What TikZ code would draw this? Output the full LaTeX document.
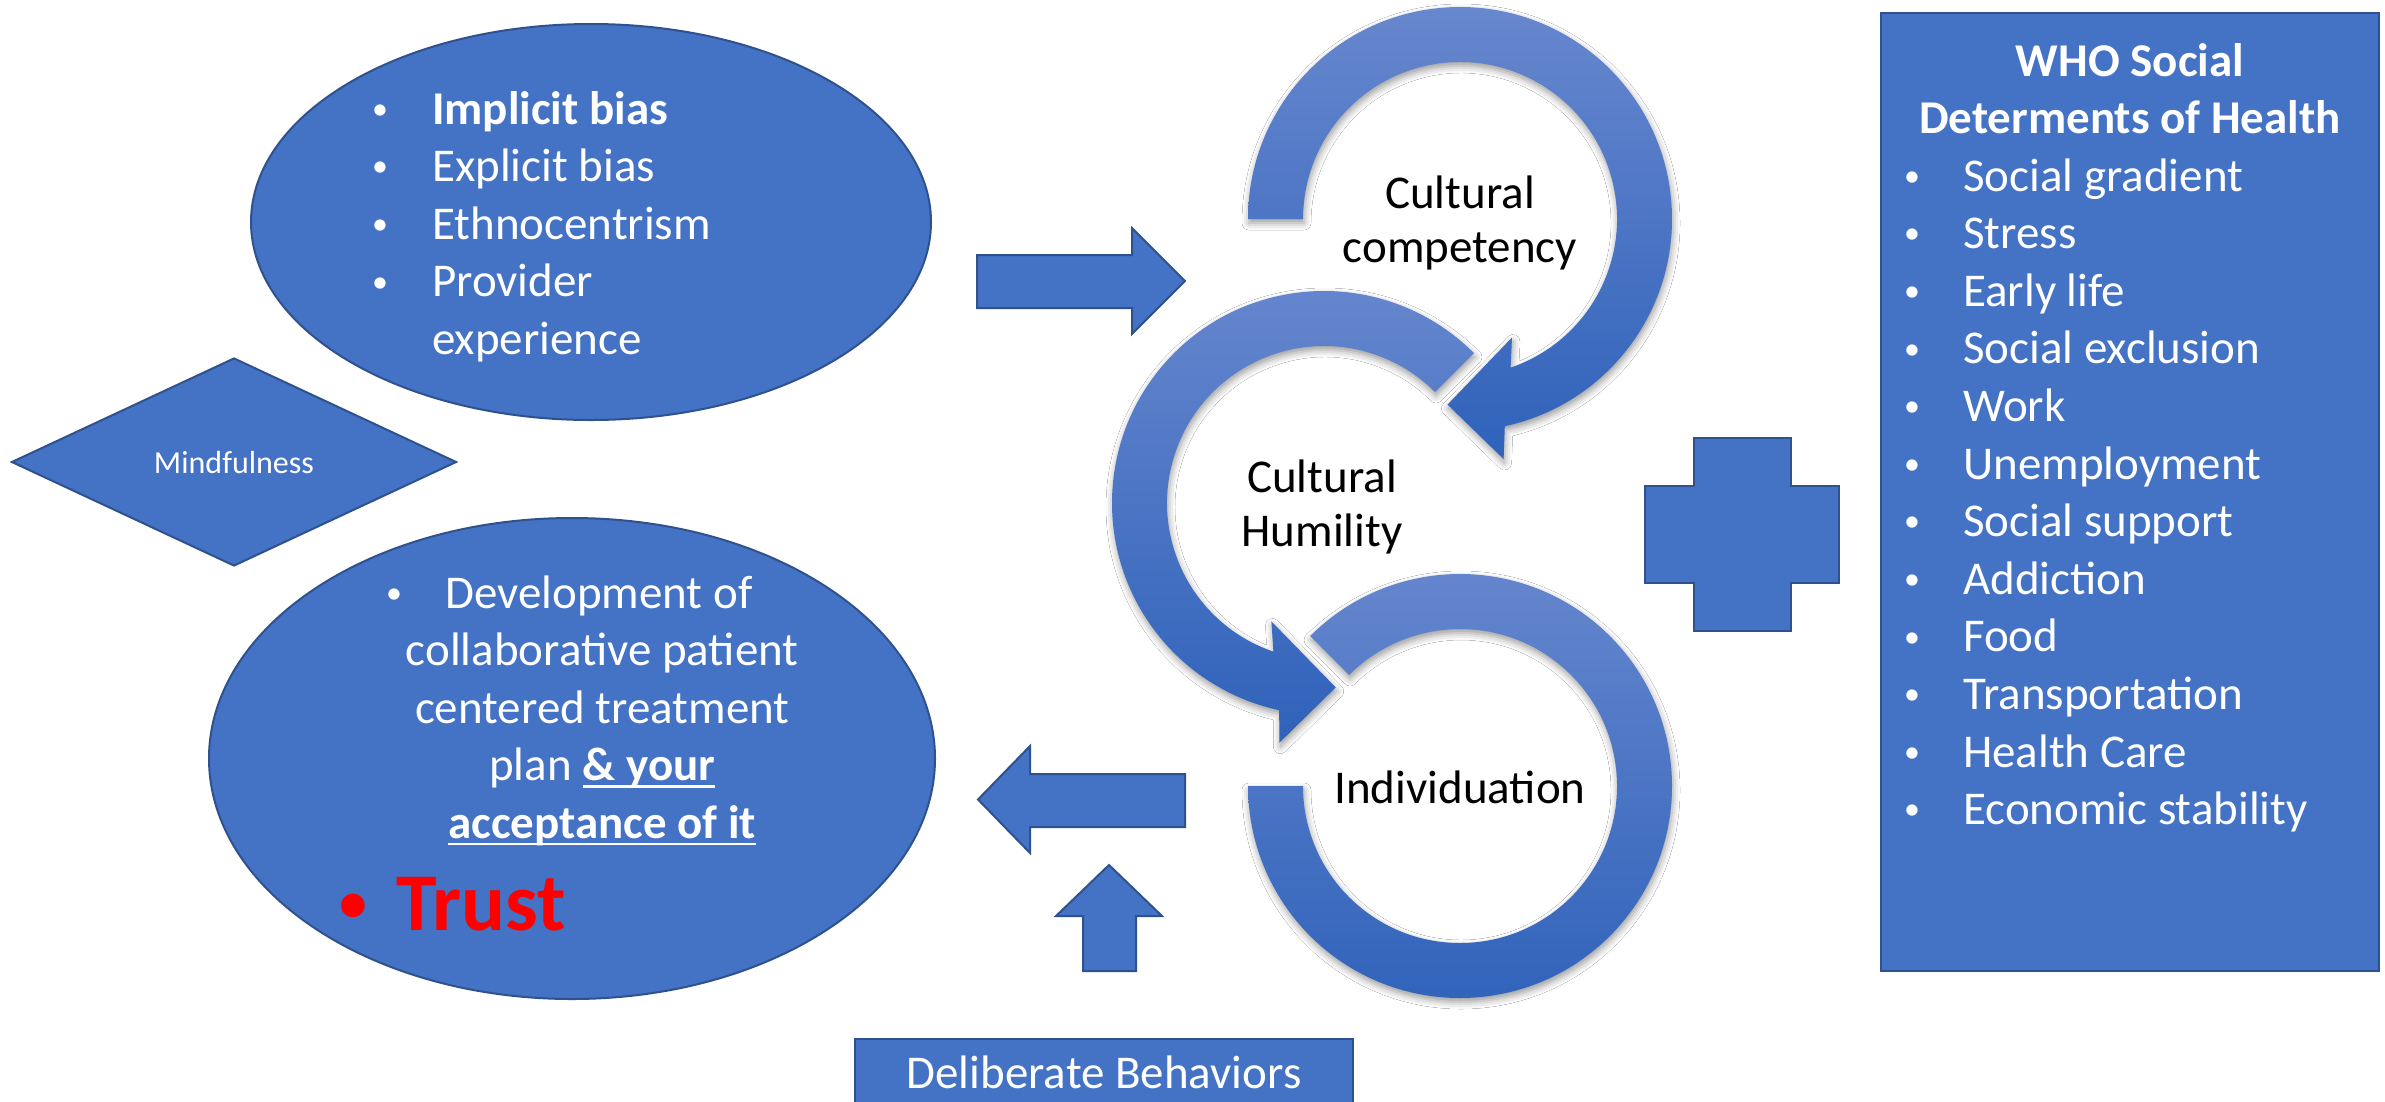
\documentclass[tikz,border=0pt]{standalone}
\usepackage{fontspec}
\setmainfont{Carlito}
\usetikzlibrary{shapes.geometric,shadows.blur,calc}
\definecolor{mainblue}{HTML}{4472C4}
\definecolor{edgeblue}{HTML}{2F528F}
\definecolor{ringtop}{HTML}{6787CE}
\definecolor{ringbot}{HTML}{2F62BA}
\newcommand\myul[1]{\setbox0=\hbox{#1}\rlap{\rule[-7pt]{\wd0}{2.5pt}}\box0}
\newcommand\smbul{\raisebox{0.1em}{\scalebox{0.68}{•}}}
\begin{document}
\begin{tikzpicture}[x=1pt,y=1pt,
  shapebox/.style={fill=mainblue, draw=edgeblue, line width=2pt},
  ring/.style={top color=ringtop, bottom color=ringbot, draw=none,
    blur shadow={shadow xshift=1pt, shadow yshift=-4pt, shadow blur radius=7pt, shadow opacity=40}},
  whitetxt/.style={text=white, inner sep=0pt, font=\fontsize{47}{57.6}\selectfont},
  blacktxt/.style={text=black, inner sep=0pt, font=\fontsize{47}{54}\selectfont}]
\useasboundingbox (0,0) rectangle (2385,-1101);
\fill[white] (0,0) rectangle (2385,-1101);

% left ellipses and diamond
\node[shapebox, ellipse, minimum width=680pt, minimum height=396pt, inner sep=0pt] (topell) at (591,-222) {};
\node[shapebox, ellipse, minimum width=726pt, minimum height=481pt, inner sep=0pt] (botell) at (572,-758.5) {};
\node[shapebox, diamond, minimum width=445pt, minimum height=208pt, inner sep=0pt,
      text=white, font=\fontsize{32}{38}\selectfont] (mind) at (234,-462) {Mindfulness};

\node[whitetxt, anchor=base west] (toplist) at (372,-124) {\vtop{%
  \hbox{\makebox[60pt][l]{\smbul}\textbf{Implicit bias}}
  \hbox{\makebox[60pt][l]{\smbul}Explicit bias}
  \hbox{\makebox[60pt][l]{\smbul}Ethnocentrism}
  \hbox{\makebox[60pt][l]{\smbul}Provider}
  \hbox{\hspace*{60pt}experience}}};

\node[whitetxt, anchor=base west] (botlist) at (372,-608) {\vtop{%
  \hbox to 460pt{\hskip14pt\makebox[59pt][l]{\smbul}Development of\hfil}
  \hbox to 460pt{\hfil collaborative patient\hfil}
  \hbox to 460pt{\hfil centered treatment\hfil}
  \hbox to 460pt{\hfil plan \myul{\textbf{\& your}}\hfil}
  \hbox to 460pt{\hfil\myul{\textbf{acceptance of it}}\hfil}}};

\node[inner sep=0pt, anchor=base west, text=red, font=\bfseries\fontsize{82}{90}\selectfont] (trust) at (339,-930) {\makebox[57pt][l]{\smbul}Trust};

% block arrows
\draw[shapebox] (977,-255) -- (1132,-255) -- (1132,-228) -- (1185,-281) -- (1132,-334) -- (1132,-308) -- (977,-308) -- cycle;
\draw[shapebox] (1185,-774) -- (1030,-774) -- (1030,-746) -- (978,-799.5) -- (1030,-853) -- (1030,-827) -- (1185,-827) -- cycle;
\draw[shapebox] (1083,-971) -- (1083,-916) -- (1056,-916) -- (1109,-865) -- (1162,-916) -- (1136,-916) -- (1136,-971) -- cycle;

% circular arrows
\coordinate (c1) at (1460,-219);
\coordinate (c2) at (1324,-503);
\coordinate (c3) at (1460,-786);
\path[ring] ($(c3)+(135:212)$) arc[start angle=135, end angle=-180, radius=212]
  -- ($(c3)+(180:157)$) arc[start angle=-180, end angle=135, radius=157] -- cycle;
\path[ring] ($(c2)+(45:212)$) arc[start angle=45, end angle=257.8, radius=212]
  -- (1279.3,-742.8) -- (1335.7,-687.4) -- (1271.4,-621.4)
  -- ($(c2)+(251.2:157)$) arc[start angle=251.2, end angle=45, radius=157] -- cycle;
\path[ring] ($(c1)+(180:212)$) arc[start angle=180, end angle=-77.8, radius=212]
  -- (1503.6,-459) -- (1447.5,-404.6) -- (1512,-337.5)
  -- ($(c1)+(-71.2:157)$) arc[start angle=-71.2, end angle=180, radius=157] -- cycle;

\node[blacktxt, anchor=base] (cc) at (1460,-208) {\vtop{\hbox to 300pt{\hfil Cultural\hfil}\hbox to 300pt{\hfil competency\hfil}}};
\node[blacktxt, anchor=base] (ch) at (1322,-492) {\vtop{\hbox to 300pt{\hfil Cultural\hfil}\hbox to 300pt{\hfil Humility\hfil}}};
\node[blacktxt, anchor=base] (ind) at (1460,-803.5) {Individuation};

% plus
\draw[shapebox] (1694,-438) -- (1791,-438) -- (1791,-486) -- (1839,-486) -- (1839,-583) -- (1791,-583)
  -- (1791,-631) -- (1694,-631) -- (1694,-583) -- (1645,-583) -- (1645,-486) -- (1694,-486) -- cycle;

% WHO box
\node[shapebox, rectangle, minimum width=498pt, minimum height=958pt, inner sep=0pt] (who) at (2130,-492) {};
\node[whitetxt, anchor=base, font=\bfseries\fontsize{47}{57.6}\selectfont] (whotitle) at (2130,-76)
  {\vtop{\hbox to 470pt{\hfil WHO Social\hfil}\hbox to 470pt{\hfil Determents of Health\hfil}}};
\node[whitetxt, anchor=base west] (wholist) at (1904,-191) {\vtop{%
  \hbox{\makebox[59pt][l]{\smbul}Social gradient}
  \hbox{\makebox[59pt][l]{\smbul}Stress}
  \hbox{\makebox[59pt][l]{\smbul}Early life}
  \hbox{\makebox[59pt][l]{\smbul}Social exclusion}
  \hbox{\makebox[59pt][l]{\smbul}Work}
  \hbox{\makebox[59pt][l]{\smbul}Unemployment}
  \hbox{\makebox[59pt][l]{\smbul}Social support}
  \hbox{\makebox[59pt][l]{\smbul}Addiction}
  \hbox{\makebox[59pt][l]{\smbul}Food}
  \hbox{\makebox[59pt][l]{\smbul}Transportation}
  \hbox{\makebox[59pt][l]{\smbul}Health Care}
  \hbox{\makebox[59pt][l]{\smbul}Economic stability}}};

% bottom box
\node[shapebox, rectangle, minimum width=498pt, minimum height=76pt, inner sep=0pt, anchor=north,
      text=white, font=\fontsize{47}{57.6}\selectfont, text height=35pt, text depth=13pt] (delib) at (1104,-1038) {Deliberate Behaviors};
\end{tikzpicture}
\end{document}
